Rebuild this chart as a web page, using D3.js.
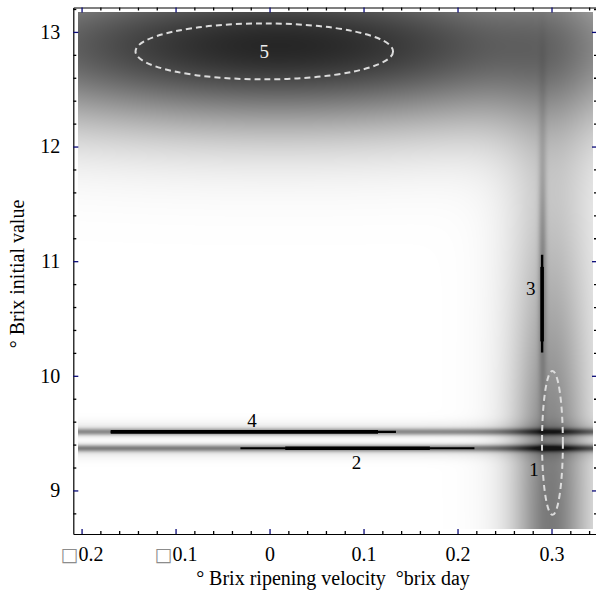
<!DOCTYPE html>
<html>
<head>
<meta charset="utf-8">
<script src="https://cdn.jsdelivr.net/npm/d3@7"></script>
<style>
  html, body { margin: 0; padding: 0; background: #fff; }
  svg { display: block; }
  svg text { font-family: "Liberation Serif", "Times New Roman", "DejaVu Serif", serif; }
</style>
</head>
<body>
<svg id="chart" width="596" height="599"></svg>
<script>
// ---- axes ----
const xMajorTicks = [-0.2, -0.1, 0, 0.1, 0.2, 0.3];
const xTickLabels = ["\u25A10.2", "\u25A10.1", "0", "0.1", "0.2", "0.3"];
const yMajorTicks = [9, 10, 11, 12, 13];
const yTickLabels = ["9", "10", "11", "12", "13"];
const xAxisTitle = "\u00B0 Brix ripening velocity  \u00B0brix day";
const yAxisTitle = "\u00B0 Brix initial value";

// ---- density field: gaussian components (centre, spread, weight) ----
// sx / sy of Infinity means the component is constant along that axis
const compName = ["cloud5", "band1", "band1Halo", "ridge3", "line4", "line2", "line4Halo", "line2Halo"];
const compCx   = [0.01,   0.299, 0.302, 0.2905, 0,        0,        0,        0];
const compSx   = [0.28,   0.026, 0.04,  0.003,  Infinity, Infinity, Infinity, Infinity];
const compCy   = [12.88,  8.6,   10.0,  11.0,   9.511,    9.368,    9.54,     9.34];
const compSy   = [0.5,    1.6,   3.0,   0.85,   0.022,    0.022,    0.05,     0.05];
const compW    = [0.85,   0.38,  0.16,  0.22,   0.40,     0.45,     0.07,     0.07];

// ---- cluster trajectories (black segments) ----
// horizontal segments: y, full extent, thick core
const hSegId    = ["4", "2"];
const hSegY     = [9.511, 9.368];
const hSegX0    = [-0.169, -0.031];
const hSegX1    = [0.1345, 0.218];
const hSegCore0 = [-0.169, 0.0167];
const hSegCore1 = [0.1154, 0.1706];
// vertical segment
const vSegId    = ["3"];
const vSegX     = [0.290];
const vSegY0    = [10.203];
const vSegY1    = [11.056];
const vSegCore0 = [10.30];
const vSegCore1 = [10.95];

// ---- confidence ellipses ----
const ellId = ["5", "1"];
const ellCx = [-0.0056, 0.301];
const ellCy = [12.83, 9.415];
const ellRx = [0.137, 0.0111];
const ellRy = [0.244, 0.628];

// ---- cluster number labels ----
const labelId = ["5", "4", "2", "3", "1"];
const labelX  = [-0.0056, -0.0186, 0.0926, 0.278, 0.2815];
const labelY  = [12.83, 9.61, 9.24, 10.76, 9.18];
const labelFill = ["#eeeeee", "#000", "#000", "#000", "#000"];

// ---- layout ----
const svg = d3.select("#chart");
const x = d3.scaleLinear().domain([-0.2088, 0.3484]).range([73.3, 597]);
const y = d3.scaleLinear().domain([8.62, 13.213]).range([534, 7.5]);
const fieldX = [-0.2039, 0.3437];
const fieldY = [8.664, 13.177];
const serif = "'Liberation Serif', 'Times New Roman', serif";

// density image
(function drawField() {
  const px0 = Math.round(x(fieldX[0])), px1 = Math.round(x(fieldX[1]));
  const py0 = Math.round(y(fieldY[1])), py1 = Math.round(y(fieldY[0]));
  const w = px1 - px0, h = py1 - py0;
  const canvas = document.createElement("canvas");
  canvas.width = w; canvas.height = h;
  const ctx = canvas.getContext("2d");
  const img = ctx.createImageData(w, h);
  const shade = d3.scaleLinear().domain([0, 1]).range([255, 0]).clamp(true);
  for (let j = 0; j < h; j++) {
    const vy = y.invert(py0 + j + 0.5);
    for (let i = 0; i < w; i++) {
      const vx = x.invert(px0 + i + 0.5);
      let d = 0;
      for (let k = 0; k < compW.length; k++) {
        const gx = isFinite(compSx[k]) ? Math.exp(-((vx - compCx[k]) ** 2) / (2 * compSx[k] ** 2)) : 1;
        const gy = isFinite(compSy[k]) ? Math.exp(-((vy - compCy[k]) ** 2) / (2 * compSy[k] ** 2)) : 1;
        d += compW[k] * gx * gy;
      }
      const g = Math.round(shade(Math.min(d, 0.92)));
      const o = (j * w + i) * 4;
      img.data[o] = g; img.data[o + 1] = g; img.data[o + 2] = g; img.data[o + 3] = 255;
    }
  }
  ctx.putImageData(img, 0, 0);
  svg.append("image")
    .attr("x", px0).attr("y", py0)
    .attr("width", w).attr("height", h)
    .attr("preserveAspectRatio", "none")
    .attr("href", canvas.toDataURL());
})();

// trajectories
const seg = svg.append("g").attr("stroke", "#000").attr("stroke-linecap", "butt");
hSegId.forEach((id, i) => {
  seg.append("line").attr("x1", x(hSegX0[i])).attr("x2", x(hSegX1[i]))
    .attr("y1", y(hSegY[i])).attr("y2", y(hSegY[i])).attr("stroke-width", 2.2);
  seg.append("line").attr("x1", x(hSegCore0[i])).attr("x2", x(hSegCore1[i]))
    .attr("y1", y(hSegY[i])).attr("y2", y(hSegY[i])).attr("stroke-width", 3.6);
});
vSegId.forEach((id, i) => {
  seg.append("line").attr("x1", x(vSegX[i])).attr("x2", x(vSegX[i]))
    .attr("y1", y(vSegY0[i])).attr("y2", y(vSegY1[i])).attr("stroke-width", 2.4);
  seg.append("line").attr("x1", x(vSegX[i])).attr("x2", x(vSegX[i]))
    .attr("y1", y(vSegCore0[i])).attr("y2", y(vSegCore1[i])).attr("stroke-width", 3.6);
});

// ellipses
svg.append("g").selectAll("ellipse").data(ellId).join("ellipse")
  .attr("cx", (d, i) => x(ellCx[i]))
  .attr("cy", (d, i) => y(ellCy[i]))
  .attr("rx", (d, i) => x(ellCx[i] + ellRx[i]) - x(ellCx[i]))
  .attr("ry", (d, i) => y(ellCy[i] - ellRy[i]) - y(ellCy[i]))
  .attr("fill", "none").attr("stroke", "#dcdcdc")
  .attr("stroke-width", 2).attr("stroke-dasharray", "6 4");

// cluster labels
svg.append("g").selectAll("text").data(labelId).join("text")
  .attr("x", (d, i) => x(labelX[i]))
  .attr("y", (d, i) => y(labelY[i]))
  .attr("text-anchor", "middle").attr("dominant-baseline", "central")
  .attr("font-size", 19).style("font-family", serif)
  .attr("fill", (d, i) => labelFill[i])
  .text(d => d);

// axes
const xMinor = d3.range(-0.2, 0.3401, 0.02).map(v => +v.toFixed(2)).filter(v => !xMajorTicks.some(t => Math.abs(t - v) < 1e-9));
const yMinor = d3.range(8.8, 13.21, 0.2).map(v => +v.toFixed(1)).filter(v => !yMajorTicks.includes(v));
const majorColor = "#0a0a78";

function styleAxis(g, color) {
  g.attr("font-family", null);
  g.select(".domain").attr("stroke", "#000").attr("stroke-width", 1.2);
  g.selectAll(".tick line").attr("stroke", color).attr("stroke-width", 1.3);
}

// bottom
const gb = svg.append("g").attr("transform", "translate(0,534)");
gb.call(d3.axisBottom(x).tickValues(xMinor).tickSize(-3).tickSizeOuter(0).tickFormat(""))
  .call(g => styleAxis(g, "#000"));
const gbM = svg.append("g").attr("transform", "translate(0,534)");
gbM.call(d3.axisBottom(x).tickValues(xMajorTicks).tickSize(-5).tickSizeOuter(0).tickPadding(13)
      .tickFormat((d, i) => xTickLabels[i]))
  .call(g => styleAxis(g, majorColor));
gbM.select(".domain").remove();
gbM.selectAll(".tick text")
  .attr("font-size", 20).attr("fill", "#000").style("font-family", serif)
  .each(function (d, i) {
    const t = d3.select(this);
    const s = xTickLabels[i];
    if (s.startsWith("\u25A1")) {
      t.text(null);
      t.append("tspan").attr("fill", "#8c8c8c").attr("font-size", 19)
        .style("font-family", "'DejaVu Sans', sans-serif").text("\u25A1");
      t.append("tspan").text(s.slice(1));
    }
  });

// left
const gl = svg.append("g").attr("transform", "translate(73.3,0)");
gl.call(d3.axisLeft(y).tickValues(yMinor).tickSize(-3).tickSizeOuter(0).tickFormat(""))
  .call(g => styleAxis(g, "#000"));
const glM = svg.append("g").attr("transform", "translate(73.3,0)");
glM.call(d3.axisLeft(y).tickValues(yMajorTicks).tickSize(-5).tickSizeOuter(0).tickPadding(13)
      .tickFormat((d, i) => yTickLabels[i]))
  .call(g => styleAxis(g, majorColor));
glM.select(".domain").remove();
glM.selectAll(".tick text").attr("font-size", 20).attr("fill", "#000").style("font-family", serif);

// top
const gt = svg.append("g").attr("transform", "translate(0,7.5)");
gt.call(d3.axisTop(x).tickValues(xMinor).tickSize(-3).tickSizeOuter(0).tickFormat(""))
  .call(g => styleAxis(g, "#000"));
const gtM = svg.append("g").attr("transform", "translate(0,7.5)");
gtM.call(d3.axisTop(x).tickValues(xMajorTicks).tickSize(-5).tickSizeOuter(0).tickFormat(""))
  .call(g => styleAxis(g, majorColor));
gtM.select(".domain").remove();

// right (ticks only)
const gr = svg.append("g").attr("transform", "translate(597,0)");
gr.call(d3.axisRight(y).tickValues(yMinor).tickSize(-3).tickSizeOuter(0).tickFormat(""))
  .call(g => styleAxis(g, "#000"));
const grM = svg.append("g").attr("transform", "translate(597,0)");
grM.call(d3.axisRight(y).tickValues(yMajorTicks).tickSize(-5).tickSizeOuter(0).tickFormat(""))
  .call(g => styleAxis(g, majorColor));
grM.select(".domain").remove();

// titles
svg.append("text").attr("x", 333).attr("y", 585)
  .attr("text-anchor", "middle").attr("font-size", 20).attr("fill", "#000")
  .style("font-family", serif).style("white-space", "pre")
  .text(xAxisTitle);
svg.append("text").attr("transform", "translate(24,274) rotate(-90)")
  .attr("text-anchor", "middle").attr("font-size", 20).attr("fill", "#000")
  .style("font-family", serif)
  .text(yAxisTitle);
</script>
</body>
</html>
